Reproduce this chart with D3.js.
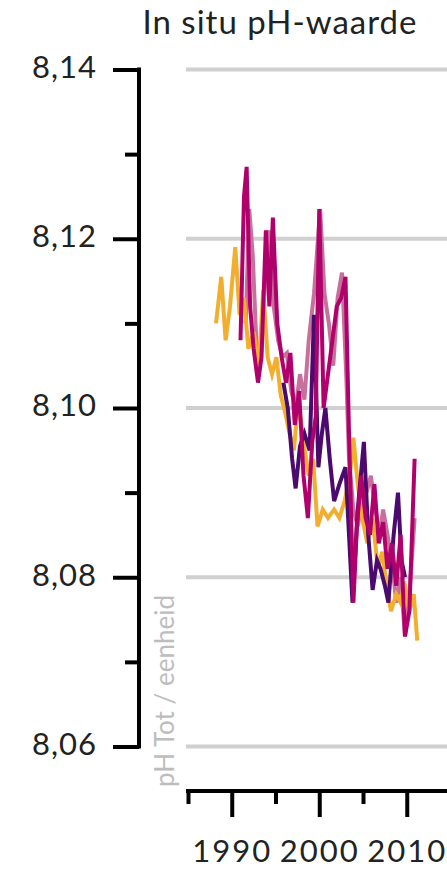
<!DOCTYPE html>
<html>
<head>
<meta charset="utf-8">
<script src="https://cdn.jsdelivr.net/npm/d3@7"></script>
<style>
  body { margin: 0; background: #fff; }
  svg text { font-family: Lato, "Noto Sans", sans-serif; }
</style>
</head>
<body>
<div id="chart"></div>
<script>
// in situ pH, four stations, [year, value]
const orange = [
  [1988.2, 8.110], [1988.8, 8.1155], [1989.3, 8.108], [1989.8, 8.112], [1990.4, 8.119],
  [1990.9, 8.111], [1991.4, 8.113], [1991.9, 8.107], [1992.5, 8.109], [1993.1, 8.105],
  [1993.6, 8.114], [1994.1, 8.106], [1994.6, 8.104], [1995.1, 8.106], [1995.6, 8.1015],
  [1996.1, 8.0995], [1996.6, 8.097], [1997.1, 8.095], [1997.6, 8.101], [1998.2, 8.096],
  [1998.8, 8.092], [1999.3, 8.094], [1999.8, 8.086], [2000.4, 8.088], [2001.0, 8.087],
  [2001.7, 8.088], [2002.3, 8.087], [2002.9, 8.089], [2003.5, 8.092], [2003.9, 8.0965],
  [2004.4, 8.091], [2004.9, 8.087], [2005.5, 8.084], [2006.1, 8.087], [2006.7, 8.081],
  [2007.2, 8.083], [2007.7, 8.079], [2008.2, 8.076], [2008.8, 8.078], [2009.3, 8.077],
  [2009.7, 8.0795], [2010.3, 8.076], [2010.8, 8.078], [2011.2, 8.0725]
]
const pink = [
  [1991.6, 8.110], [1992.0, 8.1235], [1992.4, 8.118], [1992.8, 8.108], [1993.3, 8.1055],
  [1993.8, 8.115], [1994.3, 8.121], [1994.8, 8.112], [1995.3, 8.108], [1995.8, 8.106],
  [1996.3, 8.1065], [1996.8, 8.102], [1997.3, 8.100], [1997.8, 8.104], [1998.3, 8.101],
  [1998.8, 8.108], [1999.4, 8.1135], [2000.1, 8.1235], [2000.6, 8.1135], [2001.1, 8.110],
  [2001.6, 8.105], [2002.1, 8.113], [2002.6, 8.116], [2003.1, 8.1035], [2003.4, 8.094],
  [2003.9, 8.088], [2004.4, 8.086], [2004.9, 8.089], [2005.4, 8.090], [2005.9, 8.092],
  [2006.4, 8.088], [2006.9, 8.085], [2007.3, 8.088], [2007.8, 8.085], [2008.3, 8.082],
  [2008.8, 8.077], [2009.3, 8.080], [2009.8, 8.073], [2010.3, 8.078], [2010.9, 8.087]
]
const purple = [
  [1995.9, 8.103], [1996.4, 8.100], [1996.9, 8.094], [1997.3, 8.0905], [1997.8, 8.0955],
  [1998.3, 8.097], [1998.9, 8.095], [1999.4, 8.111], [1999.9, 8.093], [2000.3, 8.097],
  [2000.7, 8.100], [2001.2, 8.094], [2001.7, 8.089], [2002.3, 8.091], [2003.0, 8.093],
  [2003.4, 8.085], [2003.8, 8.077], [2004.4, 8.088], [2005.1, 8.096], [2005.6, 8.085],
  [2006.1, 8.0785], [2006.6, 8.082], [2007.0, 8.081], [2007.5, 8.079], [2007.9, 8.077],
  [2008.5, 8.085], [2009.0, 8.090], [2009.4, 8.082], [2009.8, 8.080]
]
const magenta = [
  [1991.0, 8.108], [1991.4, 8.125], [1991.7, 8.1285], [1992.1, 8.112], [1992.5, 8.107],
  [1993.0, 8.103], [1993.4, 8.106], [1993.9, 8.121], [1994.3, 8.112], [1994.7, 8.1225],
  [1995.2, 8.110], [1995.7, 8.106], [1996.2, 8.103], [1996.7, 8.1065], [1997.2, 8.098],
  [1997.7, 8.102], [1998.2, 8.092], [1998.7, 8.087], [1999.2, 8.096], [1999.6, 8.099],
  [2000.0, 8.1235], [2000.5, 8.100], [2001.0, 8.104], [2001.5, 8.108], [2002.0, 8.112],
  [2002.5, 8.113], [2003.0, 8.1155], [2003.4, 8.097], [2003.9, 8.077], [2004.3, 8.086],
  [2004.8, 8.092], [2005.3, 8.087], [2005.8, 8.085], [2006.3, 8.091], [2006.8, 8.084],
  [2007.3, 8.0865], [2007.8, 8.081], [2008.3, 8.084], [2008.8, 8.079], [2009.3, 8.085],
  [2009.8, 8.073], [2010.3, 8.076], [2010.9, 8.094]
]

const yMajor = [8.06, 8.08, 8.10, 8.12, 8.14]
const yMinor = [8.07, 8.09, 8.11, 8.13]
const xMajor = [1990, 2000, 2010]
const xMinor = [1985, 1995, 2005]

const title = 'In situ pH-waarde'
const unitLabel = 'pH Tot / eenheid'

const width = 447
const height = 870

const svg = d3.select('#chart').append('svg')
  .attr('width', width)
  .attr('height', height)

const x = d3.scaleLinear().domain([1985, 2015]).range([188, 450.5])
const y = d3.scaleLinear().domain([8.06, 8.14]).range([746.5, 69.5])

const nl = d3.formatLocale({decimal: ',', thousands: '.', grouping: [3], currency: ['€', '']})
const fmt = nl.format('.2f')

// gridlines
svg.append('g')
  .selectAll('line')
  .data(yMajor)
  .join('line')
    .attr('x1', 186)
    .attr('x2', width)
    .attr('y1', d => y(d))
    .attr('y2', d => y(d))
    .style('stroke', '#d0d0d0')
    .style('stroke-width', 4)

// y axis
const axisY = svg.append('g').attr('transform', 'translate(139,0)')
axisY.call(d3.axisLeft(y).tickValues(yMajor).tickSize(26).tickPadding(16).tickFormat(fmt))
axisY.append('g').call(d3.axisLeft(y).tickValues(yMinor).tickSize(14).tickFormat(''))
axisY.selectAll('.domain').remove()
axisY.append('line')
  .attr('y1', y(8.14) - 2)
  .attr('y2', y(8.06) + 2)
  .style('stroke', '#000')
  .style('stroke-width', 4)
axisY.selectAll('.tick line').style('stroke', '#000').style('stroke-width', 4)
axisY.selectAll('.tick text')
  .attr('x', -42)
  .style('font-size', '31px')
  .style('letter-spacing', '1px')
  .style('fill', '#222')
  .attr('dy', '0.25em')

// x axis
const axisX = svg.append('g').attr('transform', 'translate(0,791)')
axisX.call(d3.axisBottom(x).tickValues(xMajor).tickSize(26).tickPadding(23).tickFormat(d3.format('d')))
axisX.append('g').call(d3.axisBottom(x).tickValues(xMinor).tickSize(13).tickFormat(''))
axisX.selectAll('.domain').remove()
axisX.append('line')
  .attr('x1', 186)
  .attr('x2', width)
  .style('stroke', '#000')
  .style('stroke-width', 4)
axisX.selectAll('.tick line').style('stroke', '#000').style('stroke-width', 4)
axisX.selectAll('.tick text')
  .style('font-size', '31px')
  .style('letter-spacing', '2px')
  .style('fill', '#222')

// series
const line = d3.line()
  .x(d => x(d[0]))
  .y(d => y(d[1]))

const series = [
  {data: pink, color: '#c8709c'},
  {data: orange, color: '#f2ae2e'},
  {data: purple, color: '#4b0a6e'},
  {data: magenta, color: '#b0006c'}
]

svg.append('g')
  .selectAll('path')
  .data(series)
  .join('path')
    .attr('d', d => line(d.data))
    .style('fill', 'none')
    .style('stroke', d => d.color)
    .style('stroke-width', 4)
    .style('stroke-linejoin', 'miter')

// unit label
svg.append('text')
  .attr('transform', `translate(174,${691}) rotate(-90)`)
  .attr('text-anchor', 'middle')
  .style('font-size', '26px')
  .style('fill', '#bdbdbd')
  .text(unitLabel)

// title
svg.append('text')
  .attr('x', 280)
  .attr('y', 34)
  .attr('text-anchor', 'middle')
  .style('font-size', '33px')
  .style('letter-spacing', '1px')
  .style('fill', '#222')
  .text(title)
</script>
</body>
</html>
